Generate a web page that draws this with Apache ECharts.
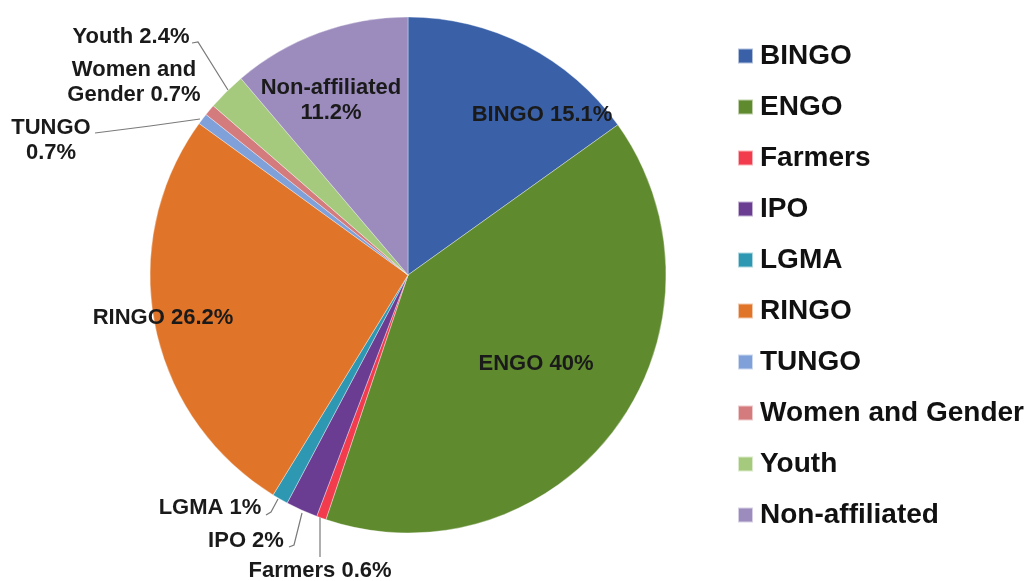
<!DOCTYPE html>
<html>
<head>
<meta charset="utf-8">
<script src="https://cdn.jsdelivr.net/npm/echarts@6/dist/echarts.min.js"></script>
<style>
html,body{margin:0;padding:0;background:#fff;}
#chart{width:1033px;height:581px;}
</style>
</head>
<body>
<div id="chart"></div>
<script>
// ---- data ----
const categories = ['BINGO','ENGO','Farmers','IPO','LGMA','RINGO','TUNGO','Women and Gender','Youth','Non-affiliated'];
const values = [15.1, 40, 0.6, 2, 1, 26.2, 0.7, 0.7, 2.4, 11.2];
// ---- style ----
const colors = ['#3a61a8','#5f8a2e','#f23b4c','#6a3d92','#2e98b2','#e07429','#7fa0d8','#d47b7e','#a6ca7d','#9c8bbd'];
const labelTemplates = ['{b} {c}%','{b} {c}%','{b} {c}%','{b} {c}%','{b} {c}%','{b} {c}%','{b}\n{c}%','Women and\nGender {c}%','{b} {c}%','{b}\n{c}%'];
const labelPos = [[542,115],[536,364],[320,571],[246,541],[210,508],[163,318],[51,140],[134,82],[131,37],[331,100]];
const linePts = [null,null,
  [[320,557],[320,537],[320,517]],
  [[289,547],[294,545],[302,513]],
  [[266,515],[271,512],[278,499]],
  null,
  [[95,133],[150,126],[200,119]],
  null,
  [[192,43],[198,42],[228,90]],
  null];

const chart = echarts.init(document.getElementById('chart'), null, {renderer:'canvas'});
const data = categories.map((n,i)=>({
  name:n, value:values[i],
  itemStyle:{color:colors[i]},
  label:{formatter:labelTemplates[i]},
  labelLine:{show: !!linePts[i]}
}));
chart.setOption({
  animation:false,
  backgroundColor:'#fff',
  legend:{
    orient:'vertical', left:737, top:42, padding:0,
    itemWidth:15, itemHeight:15, itemGap:23, icon:'rect',
    textStyle:{fontFamily:'Liberation Sans, Arial, sans-serif', fontSize:28, fontWeight:'bold', color:'#111', lineHeight:28, padding:[0,0,0,2]},
    data:categories
  },
  series:[{
    type:'pie',
    center:[408,275], radius:258,
    startAngle:90, clockwise:true,
    avoidLabelOverlap:false,
    itemStyle:{borderColor:'rgba(255,255,255,0.6)', borderWidth:0.6},
    label:{show:true, position:'outside', color:'#1a1a1a', fontFamily:'Liberation Sans, Arial, sans-serif', fontSize:22, fontWeight:'bold', lineHeight:25, align:'center'},
    labelLine:{lineStyle:{color:'#7a7a7a', width:1.2}},
    labelLayout:function(p){
      const i = p.dataIndex;
      const o = {x:labelPos[i][0], y:labelPos[i][1], align:'center', verticalAlign:'middle'};
      if (linePts[i]) o.labelLinePoints = linePts[i];
      return o;
    },
    emphasis:{disabled:true},
    data:data
  }]
});
</script>
</body>
</html>
